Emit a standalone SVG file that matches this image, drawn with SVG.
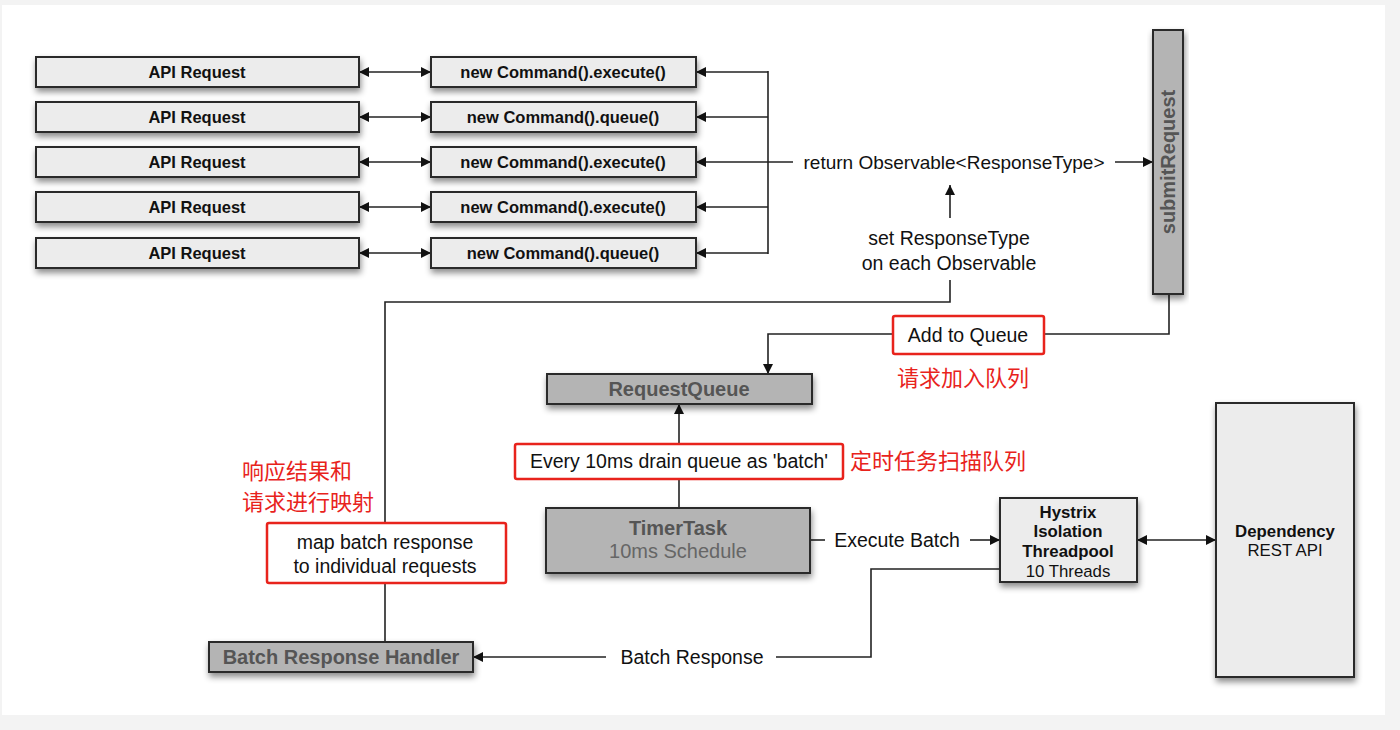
<svg xmlns="http://www.w3.org/2000/svg" width="1400" height="730" viewBox="0 0 1400 730">
<defs>
<filter id="sh" x="-20%" y="-20%" width="140%" height="160%">
<feDropShadow dx="1" dy="4" stdDeviation="3" flood-color="#000" flood-opacity="0.45"/>
</filter>
<marker id="ah" viewBox="0 0 10 10" refX="10" refY="5" markerWidth="12" markerHeight="10" markerUnits="userSpaceOnUse" orient="auto-start-reverse">
<path d="M0,0 L10,5 L0,10 z" fill="#111"/>
</marker>
<style>
.lt{fill:#ececec;stroke:#2a2a2a;stroke-width:2}
.dk{fill:#b4b4b4;stroke:#2a2a2a;stroke-width:2}
.red{fill:#fff;stroke:#e8231c;stroke-width:2.5}
.b{font-family:"Liberation Sans",Arial,sans-serif;font-weight:bold;font-size:16.5px;fill:#111;text-anchor:middle}
.bd{font-family:"Liberation Sans",Arial,sans-serif;font-weight:bold;font-size:20px;fill:#555;text-anchor:middle}
.n{font-family:"Liberation Sans",Arial,sans-serif;font-size:19.5px;fill:#111;text-anchor:middle}
.h{font-family:"Liberation Sans",Arial,sans-serif;font-size:16.8px;fill:#111;text-anchor:middle}
.hb{font-weight:bold}
.cn{font-family:"Liberation Sans","Noto Sans CJK SC",sans-serif;font-size:22px;fill:#e8231c}
.c{fill:none;stroke:#222;stroke-width:1.6}
</style>
</defs>
<rect x="0" y="0" width="1400" height="730" fill="#f3f3f3"/>
<rect x="2" y="5" width="1383" height="710" fill="#fff"/>

<g id="connectors">
<line class="c" x1="359" y1="72" x2="431" y2="72" marker-start="url(#ah)" marker-end="url(#ah)"/>
<line class="c" x1="359" y1="117" x2="431" y2="117" marker-start="url(#ah)" marker-end="url(#ah)"/>
<line class="c" x1="359" y1="162" x2="431" y2="162" marker-start="url(#ah)" marker-end="url(#ah)"/>
<line class="c" x1="359" y1="207" x2="431" y2="207" marker-start="url(#ah)" marker-end="url(#ah)"/>
<line class="c" x1="359" y1="253" x2="431" y2="253" marker-start="url(#ah)" marker-end="url(#ah)"/>
<line class="c" x1="768" y1="71" x2="768" y2="254"/>
<line class="c" x1="768" y1="72" x2="696" y2="72" marker-end="url(#ah)"/>
<line class="c" x1="768" y1="117" x2="696" y2="117" marker-end="url(#ah)"/>
<line class="c" x1="793" y1="162" x2="696" y2="162" marker-end="url(#ah)"/>
<line class="c" x1="768" y1="207" x2="696" y2="207" marker-end="url(#ah)"/>
<line class="c" x1="768" y1="253" x2="696" y2="253" marker-end="url(#ah)"/>
<line class="c" x1="1115" y1="162" x2="1153" y2="162" marker-end="url(#ah)"/>
<line class="c" x1="950" y1="218" x2="950" y2="185" marker-end="url(#ah)"/>
<polyline class="c" points="950,280 950,302 385,302 385,523"/>
<line class="c" x1="385" y1="583" x2="385" y2="642"/>
<polyline class="c" points="1169,294 1169,334 1044,334"/>
<polyline class="c" points="893,334 768,334 768,374" marker-end="url(#ah)"/>
<line class="c" x1="679" y1="444" x2="679" y2="404" marker-end="url(#ah)"/>
<line class="c" x1="679" y1="479" x2="679" y2="508"/>
<line class="c" x1="810" y1="540" x2="825" y2="540"/>
<line class="c" x1="970" y1="540" x2="1000" y2="540" marker-end="url(#ah)"/>
<line class="c" x1="1137" y1="540" x2="1216" y2="540" marker-start="url(#ah)" marker-end="url(#ah)"/>
<polyline class="c" points="1000,569 871,569 871,657 776,657"/>
<line class="c" x1="606" y1="657" x2="473" y2="657" marker-end="url(#ah)"/>
<text class="n" x="954" y="169" style="font-size:19px">return Observable&lt;ResponseType&gt;</text>
<text class="n" x="949" y="245">set ResponseType</text>
<text class="n" x="949" y="270">on each Observable</text>
<text class="n" x="897" y="547">Execute Batch</text>
<text class="n" x="692" y="664">Batch Response</text>
</g>

<g id="api1"><rect class="lt" x="36" y="57" width="323" height="30" filter="url(#sh)"/><text class="b" x="197" y="78">API Request</text></g>
<g id="api2"><rect class="lt" x="36" y="102" width="323" height="30" filter="url(#sh)"/><text class="b" x="197" y="123">API Request</text></g>
<g id="api3"><rect class="lt" x="36" y="147" width="323" height="30" filter="url(#sh)"/><text class="b" x="197" y="168">API Request</text></g>
<g id="api4"><rect class="lt" x="36" y="192" width="323" height="30" filter="url(#sh)"/><text class="b" x="197" y="213">API Request</text></g>
<g id="api5"><rect class="lt" x="36" y="238" width="323" height="30" filter="url(#sh)"/><text class="b" x="197" y="259">API Request</text></g>

<g id="cmd1"><rect class="lt" x="431" y="57" width="265" height="30" filter="url(#sh)"/><text class="b" x="563" y="78">new Command().execute()</text></g>
<g id="cmd2"><rect class="lt" x="431" y="102" width="265" height="30" filter="url(#sh)"/><text class="b" x="563" y="123">new Command().queue()</text></g>
<g id="cmd3"><rect class="lt" x="431" y="147" width="265" height="30" filter="url(#sh)"/><text class="b" x="563" y="168">new Command().execute()</text></g>
<g id="cmd4"><rect class="lt" x="431" y="192" width="265" height="30" filter="url(#sh)"/><text class="b" x="563" y="213">new Command().execute()</text></g>
<g id="cmd5"><rect class="lt" x="431" y="238" width="265" height="30" filter="url(#sh)"/><text class="b" x="563" y="259">new Command().queue()</text></g>

<g id="submitRequest"><rect class="dk" x="1153" y="30" width="30" height="264" filter="url(#sh)"/><text class="bd" transform="translate(1175,162) rotate(-90)" x="0" y="0">submitRequest</text></g>

<g id="addToQueue"><rect class="red" x="893" y="316" width="151" height="38" rx="2"/><text class="n" x="968" y="342">Add to Queue</text><text class="cn" x="897" y="386">请求加入队列</text></g>

<g id="requestQueue"><rect class="dk" x="547" y="374" width="265" height="30" filter="url(#sh)"/><text class="bd" x="679" y="396">RequestQueue</text></g>

<g id="drain"><rect class="red" x="515" y="444" width="328" height="35" rx="2"/><text class="n" x="679" y="468">Every 10ms drain queue as 'batch'</text><text class="cn" x="850" y="469">定时任务扫描队列</text></g>

<g id="timerTask"><rect class="dk" x="546" y="508" width="264" height="65" filter="url(#sh)"/><text class="bd" x="678" y="535">TimerTask</text><text class="n" x="678" y="558" style="fill:#666;font-size:20px">10ms Schedule</text></g>

<g id="hystrix"><rect class="lt" x="1000" y="498" width="137" height="84" filter="url(#sh)"/><text class="h hb" x="1068" y="518">Hystrix</text><text class="h hb" x="1068" y="537">Isolation</text><text class="h hb" x="1068" y="557">Threadpool</text><text class="h" x="1068" y="577">10 Threads</text></g>

<g id="dependency"><rect class="lt" x="1216" y="403" width="138" height="274" filter="url(#sh)"/><text class="h hb" x="1285" y="537">Dependency</text><text class="h" x="1285" y="556">REST API</text></g>

<g id="mapBatch"><rect class="red" x="267" y="523" width="239" height="60" rx="2"/><text class="n" x="385" y="549">map batch response</text><text class="n" x="385" y="573">to individual requests</text></g>

<g id="mapNote"><text class="cn" x="242" y="479">响应结果和</text><text class="cn" x="242" y="510">请求进行映射</text></g>

<g id="batchResponseHandler"><rect class="dk" x="209" y="642" width="264" height="30" filter="url(#sh)"/><text class="bd" x="341" y="664">Batch Response Handler</text></g>
</svg>
